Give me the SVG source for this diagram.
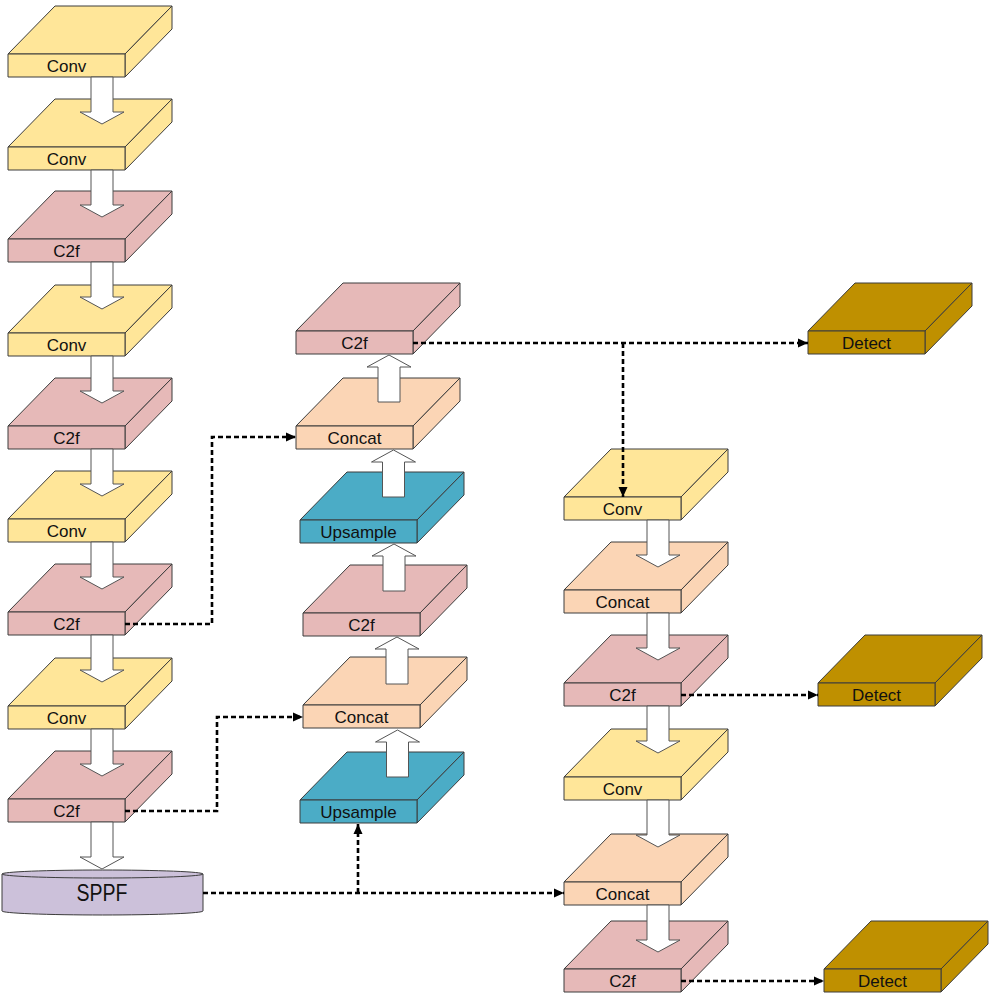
<svg xmlns="http://www.w3.org/2000/svg" width="990" height="1000" viewBox="0 0 990 1000">
<style>
  .blk { stroke:#3c3c3c; stroke-width:1; stroke-linejoin:round; }
  .conv { fill:#FFE699; }
  .c2f { fill:#E6B9B8; }
  .concat { fill:#FBD5B5; }
  .up { fill:#4BACC6; }
  .det { fill:#BF9000; }
  .lbl { font-family:"Liberation Sans", Arial, sans-serif; font-size:17px; fill:#111; stroke:none; text-anchor:middle; }
  .barrow { fill:#ffffff; stroke:#555555; stroke-width:1; }
  .dash { fill:none; stroke:#000; stroke-width:2.6; stroke-dasharray:5 3; }
</style>
<defs>
  <marker id="ah" viewBox="0 0 10 10" refX="10" refY="5" markerWidth="10" markerHeight="10" markerUnits="userSpaceOnUse" orient="auto">
    <path d="M0,0.5 L10,5 L0,9.5 z" fill="#000"/>
  </marker>
  <g id="slab">
    <polygon points="0,0 47,-48 164,-48 117,0"/>
    <polygon points="117,0 164,-48 164,-25 117,23"/>
    <rect x="0" y="0" width="117" height="23"/>
  </g>
  <polygon id="down" points="-11,0 11,0 11,35 22,35 0,47 -22,35 -11,35"/>
  <polygon id="upa" points="-11,47 11,47 11,12 22,12 0,0 -22,12 -11,12"/>
</defs>
<rect width="990" height="1000" fill="#ffffff"/>

<!-- Left column -->
<g id="n1" class="blk conv"><use href="#slab" x="8" y="54"/><text class="lbl" x="66.5" y="72">Conv</text></g>
<g id="n2" class="blk conv"><use href="#slab" x="8" y="147"/><text class="lbl" x="66.5" y="165">Conv</text></g>
<g id="n3" class="blk c2f"><use href="#slab" x="8" y="239"/><text class="lbl" x="66.5" y="257">C2f</text></g>
<g id="n4" class="blk conv"><use href="#slab" x="8" y="333"/><text class="lbl" x="66.5" y="351">Conv</text></g>
<g id="n5" class="blk c2f"><use href="#slab" x="8" y="426"/><text class="lbl" x="66.5" y="444">C2f</text></g>
<g id="n6" class="blk conv"><use href="#slab" x="8" y="519"/><text class="lbl" x="66.5" y="537">Conv</text></g>
<g id="n7" class="blk c2f"><use href="#slab" x="8" y="612"/><text class="lbl" x="66.5" y="630">C2f</text></g>
<g id="n8" class="blk conv"><use href="#slab" x="8" y="706"/><text class="lbl" x="66.5" y="724">Conv</text></g>
<g id="n9" class="blk c2f"><use href="#slab" x="8" y="799"/><text class="lbl" x="66.5" y="817">C2f</text></g>

<g id="sppf">
  <path d="M2,874 L2,911 A100.5,4 0 0 0 203,911 L203,874 Z" fill="#CCC1DA" stroke="#3c3c3c" stroke-width="1"/>
  <ellipse cx="102.5" cy="874" rx="100.5" ry="4" fill="#CCC1DA" stroke="#3c3c3c" stroke-width="1"/>
  <text x="102" y="901" font-family="Liberation Sans, Arial, sans-serif" font-size="23" fill="#111" text-anchor="middle" textLength="51" lengthAdjust="spacingAndGlyphs">SPPF</text>
</g>

<!-- Middle column -->
<g id="m1" class="blk c2f"><use href="#slab" x="296" y="331"/><text class="lbl" x="354.5" y="349">C2f</text></g>
<g id="m2" class="blk concat"><use href="#slab" x="296" y="426"/><text class="lbl" x="354.5" y="444">Concat</text></g>
<g id="m3" class="blk up"><use href="#slab" x="300" y="520"/><text class="lbl" x="358.5" y="538">Upsample</text></g>
<g id="m4" class="blk c2f"><use href="#slab" x="303" y="613"/><text class="lbl" x="361.5" y="631">C2f</text></g>
<g id="m5" class="blk concat"><use href="#slab" x="303" y="705"/><text class="lbl" x="361.5" y="723">Concat</text></g>
<g id="m6" class="blk up"><use href="#slab" x="300" y="800"/><text class="lbl" x="358.5" y="818">Upsample</text></g>

<!-- Right column -->
<g id="r1" class="blk conv"><use href="#slab" x="564" y="497"/><text class="lbl" x="622.5" y="515">Conv</text></g>
<g id="r2" class="blk concat"><use href="#slab" x="564" y="590"/><text class="lbl" x="622.5" y="608">Concat</text></g>
<g id="r3" class="blk c2f"><use href="#slab" x="564" y="683"/><text class="lbl" x="622.5" y="701">C2f</text></g>
<g id="r4" class="blk conv"><use href="#slab" x="564" y="777"/><text class="lbl" x="622.5" y="795">Conv</text></g>
<g id="r5" class="blk concat"><use href="#slab" x="564" y="882"/><text class="lbl" x="622.5" y="900">Concat</text></g>
<g id="r6" class="blk c2f"><use href="#slab" x="564" y="969"/><text class="lbl" x="622.5" y="987">C2f</text></g>

<!-- Detect -->
<g id="d1" class="blk det"><use href="#slab" x="808" y="331"/><text class="lbl" x="866.5" y="349">Detect</text></g>
<g id="d2" class="blk det"><use href="#slab" x="818" y="683"/><text class="lbl" x="876.5" y="701">Detect</text></g>
<g id="d3" class="blk det"><use href="#slab" x="824" y="969"/><text class="lbl" x="882.5" y="987">Detect</text></g>

<!-- Connectors -->
<g id="connectors">
  <g class="barrow">
    <use href="#down" x="102" y="77"/>
    <use href="#down" x="102" y="170"/>
    <use href="#down" x="102" y="262"/>
    <use href="#down" x="102" y="356"/>
    <use href="#down" x="102" y="449"/>
    <use href="#down" x="102" y="542"/>
    <use href="#down" x="102" y="635"/>
    <use href="#down" x="102" y="729"/>
    <use href="#down" x="102" y="822"/>
    <use href="#down" x="658" y="520"/>
    <use href="#down" x="658" y="613"/>
    <use href="#down" x="658" y="706"/>
    <use href="#down" x="658" y="800"/>
    <use href="#down" x="658" y="905"/>
    <use href="#upa" x="389" y="355"/>
    <use href="#upa" x="393.5" y="450"/>
    <use href="#upa" x="394" y="544"/>
    <use href="#upa" x="397" y="637"/>
    <use href="#upa" x="397.5" y="730"/>
  </g>
  <path class="dash" d="M413,343 H808" marker-end="url(#ah)"/>
  <path class="dash" d="M623,343 V497" marker-end="url(#ah)"/>
  <path class="dash" d="M125,624 H212 V437 H296" marker-end="url(#ah)"/>
  <path class="dash" d="M125,811 H217 V717 H303" marker-end="url(#ah)"/>
  <path class="dash" d="M203,893 H564" marker-end="url(#ah)"/>
  <path class="dash" d="M358,893 V824" marker-end="url(#ah)"/>
  <path class="dash" d="M681,695 H818" marker-end="url(#ah)"/>
  <path class="dash" d="M681,981 H824" marker-end="url(#ah)"/>
</g>
</svg>
